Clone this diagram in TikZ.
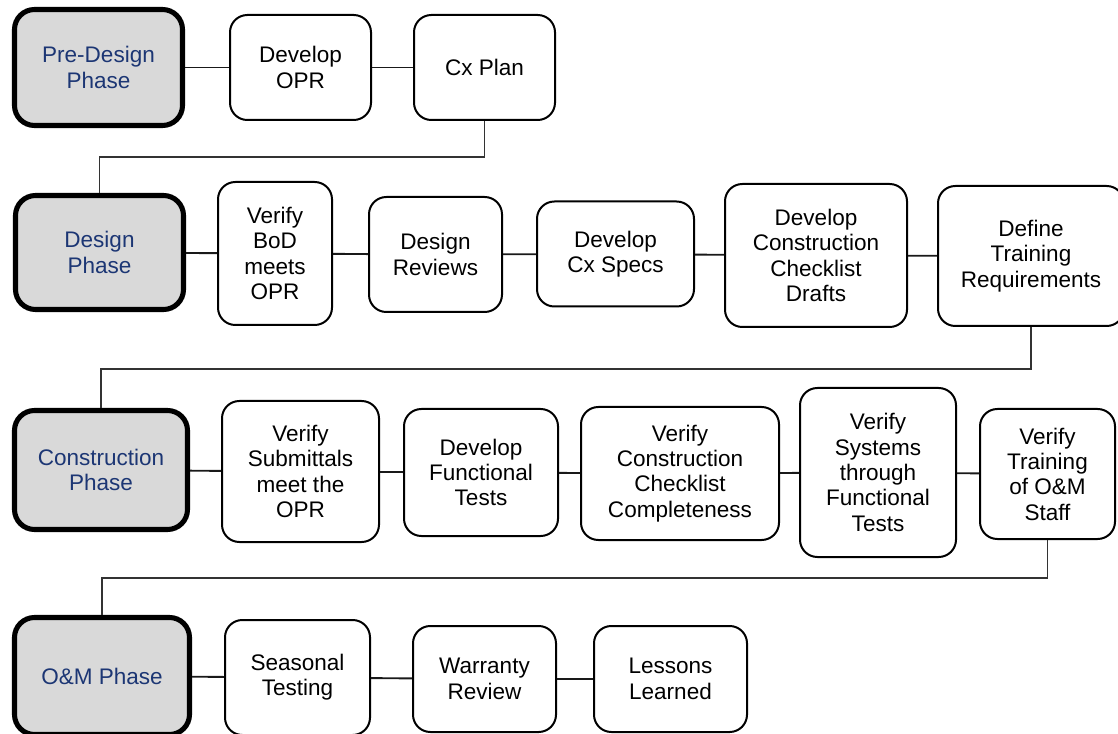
\documentclass[tikz,border=0pt]{standalone}
\usepackage{fontspec}
\setmainfont{Liberation Sans}
\definecolor{phasetext}{RGB}{28,54,116}
\definecolor{phasefill}{RGB}{217,217,217}
\tikzset{
  sz/.style 2 args={minimum width=#1*0.75pt, minimum height=#2*0.75pt},
  box/.style={draw=black, line width=1.5pt, rounded corners=13pt, fill=white,
    inner sep=0pt, align=center, font=\fontsize{16.9}{19}\selectfont},
  phase/.style={draw=black, line width=3.8pt, rounded corners=15pt, fill=phasefill,
    inner sep=0pt, align=center, text=phasetext, font=\fontsize{16.9}{19}\selectfont},
  link/.style={line width=1.4pt, draw=black!90},
  elbow/.style={line width=0.8pt, draw=black!80},
}
\begin{document}
\begin{tikzpicture}[x=0.75pt, y=-0.75pt]
\useasboundingbox (0,0) rectangle (1118,734);
\fill[white] (0,0) rectangle (1118,734);

% Row 1
\node[phase, sz={168}{116}] (pre) at (98.5,67.5) {Pre-Design\\Phase};
\node[box, sz={141}{105}] (devopr) at (300.5,67.5) {Develop\\OPR};
\node[box, sz={141}{105}] (cxplan) at (484.5,67.5) {Cx Plan};

% Row 2
\node[phase, sz={168}{114}] (design) at (99.5,252.5) {Design\\Phase};
\node[box, sz={114}{143}] (verbod) at (275,253.5) {Verify\\BoD\\meets\\OPR};
\node[box, sz={133}{115}] (desrev) at (435.5,254.5) {Design\\Reviews};
\node[box, sz={157}{105}] (cxspecs) at (615.5,254) {Develop\\Cx Specs};
\node[box, sz={182}{143}] (drafts) at (816,255.5) {Develop\\Construction\\Checklist\\Drafts};
\node[box, sz={186}{140}] (define) at (1031,256) {Define\\Training\\Requirements};

% Row 3
\node[phase, sz={173}{119}] (constr) at (101,470) {Construction\\Phase};
\node[box, sz={157}{141}] (versub) at (300.5,471.5) {Verify\\Submittals\\meet the\\OPR};
\node[box, sz={154}{127}] (devfunc) at (481,472.5) {Develop\\Functional\\Tests};
\node[box, sz={198}{133}] (vercc) at (680,473.5) {Verify\\Construction\\Checklist\\Completeness};
\node[box, sz={156}{169}] (versys) at (878,472.5) {Verify\\Systems\\through\\Functional\\Tests};
\node[box, sz={135}{130}] (vertrain) at (1047.5,474) {Verify\\Training\\of O\&M\\Staff};

% Row 4
\node[phase, sz={175}{117}] (om) at (102,676) {O\&M Phase};
\node[box, sz={145}{115}] (seasonal) at (297.5,677.5) {Seasonal\\Testing};
\node[box, sz={143}{106}] (warranty) at (484.5,679) {Warranty\\Review};
\node[box, sz={153}{106}] (lessons) at (670.5,679) {Lessons\\Learned};

% Row links
\draw[link] (pre) -- (devopr);
\draw[link] (devopr) -- (cxplan);
\draw[link] (design) -- (verbod);
\draw[link] (verbod) -- (desrev);
\draw[link] (desrev) -- (cxspecs);
\draw[link] (cxspecs) -- (drafts);
\draw[link] (drafts) -- (define);
\draw[link] (constr) -- (versub);
\draw[link] (versub) -- (devfunc);
\draw[link] (devfunc) -- (vercc);
\draw[link] (vercc) -- (versys);
\draw[link] (versys) -- (vertrain);
\draw[link] (om) -- (seasonal);
\draw[link] (seasonal) -- (warranty);
\draw[link] (warranty) -- (lessons);

% Elbow links between phases
\coordinate (k1) at (0,157);
\coordinate (k2) at (0,369);
\coordinate (k3) at (0,578);
\draw[elbow] (cxplan.south) -- (cxplan.south |- k1) -| (design.north);
\draw[elbow] (define.south) -- (define.south |- k2) -| (constr.north);
\draw[elbow] (vertrain.south) -- (vertrain.south |- k3) -| (om.north);
\end{tikzpicture}
\end{document}
